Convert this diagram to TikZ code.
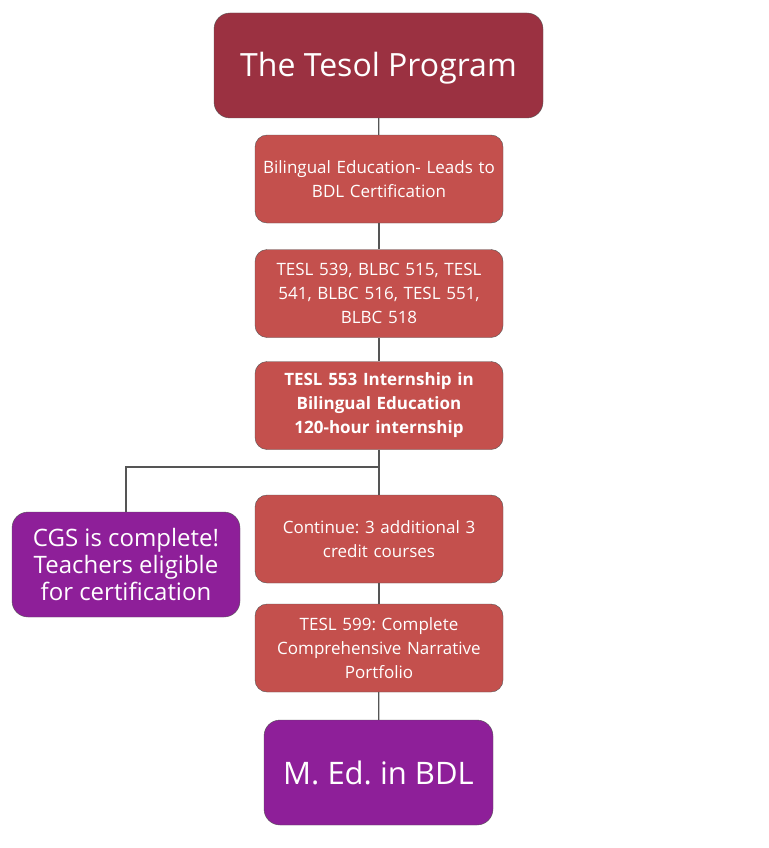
\documentclass[tikz,border=0pt]{standalone}
\usepackage{fontspec}
\setmainfont{Open Sans}
\usepackage{tikz}
\frenchspacing

\definecolor{headred}{HTML}{9B3141}
\definecolor{boxred}{HTML}{C4504D}
\definecolor{boxpurple}{HTML}{8E1F99}
\definecolor{linegray}{HTML}{555555}

\tikzset{
    stepbox/.style={draw=linegray, fill=boxred, text=white, rounded corners=12pt,
        minimum width=248pt, minimum height=88pt, text width=240pt, align=center,
        font=\fontsize{17}{24}\selectfont, inner sep=0pt},
    bigbox/.style={draw=linegray, rounded corners=16pt, text=white, align=center,
        inner sep=0pt},
    link/.style={draw=linegray, line width=1.2pt}
}

\begin{document}
\begin{tikzpicture}[x=1pt, y=-1pt]
\useasboundingbox (0, 0) rectangle (768, 848);

% Draw title and degree.
\node[bigbox, fill=headred, minimum width=329pt, minimum height=105pt,
    text height=23pt, text depth=0pt,
    font=\fontsize{32}{40}\selectfont] (prog) at (378.5, 65.5) {The Tesol Program};
\node[bigbox, fill=boxpurple, minimum width=229pt, minimum height=105pt,
    font=\fontsize{31}{38}\selectfont] (med) at (378.5, 772.5) {M. Ed. in BDL};

% Draw course steps.
\node[stepbox] (bil) at (379, 179) {Bilingual Education- Leads to\\BDL Certification};
\node[stepbox] (core) at (379, 293.5) {TESL 539, BLBC 515, TESL\\541, BLBC 516, TESL 551,\\BLBC 518};
\node[stepbox, font=\fontsize{17}{24}\selectfont\bfseries] (intern) at (379, 405.5)
    {TESL 553 Internship in\\Bilingual Education\\120-hour internship};
\node[stepbox] (cont) at (379, 539) {Continue: 3 additional 3\\credit courses};
\node[stepbox] (port) at (379, 648) {TESL 599: Complete\\Comprehensive Narrative\\Portfolio};

% Draw certificate.
\node[bigbox, fill=boxpurple, minimum width=228pt, minimum height=105pt,
    font=\fontsize{24}{27}\selectfont] (cgs) at (126, 564.5)
    {CGS is complete!\\Teachers eligible\\for certification};

% Draw links.
\coordinate (split) at (379, 467);
\draw[link] (prog) -- (bil);
\draw[link] (bil) -- (core);
\draw[link] (core) -- (intern);
\draw[link] (intern) -- (cont);
\draw[link] (cont) -- (port);
\draw[link] (port) -- (med);
\draw[link] (split) -| (cgs);

\end{tikzpicture}
\end{document}
